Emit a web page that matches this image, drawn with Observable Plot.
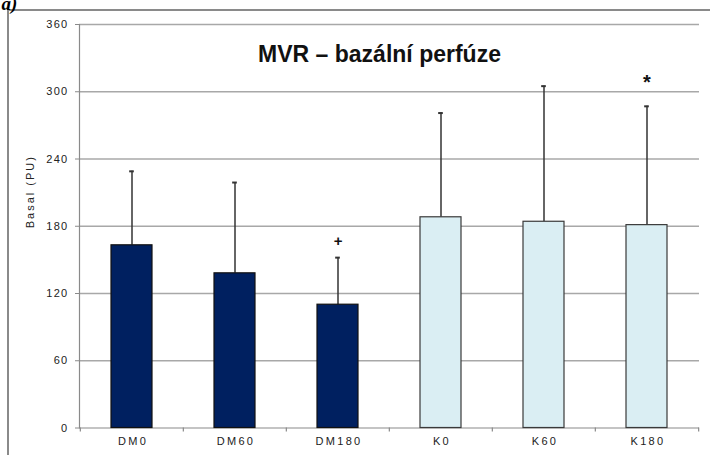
<!DOCTYPE html>
<html>
<head>
<meta charset="utf-8">
<script src="https://cdn.jsdelivr.net/npm/d3@7"></script>
<script src="https://cdn.jsdelivr.net/npm/@observablehq/plot@0.6"></script>
<style>
  html, body { margin: 0; padding: 0; background: #fff; overflow: hidden; }
  #wrap { position: relative; width: 710px; height: 455px; overflow: hidden; }
  /* outer chart-area border: only its top and left edges fall inside the page */
  #box { position: absolute; left: 7px; top: 9px; width: 703px; height: 446px;
         border-left: 2px solid #8a8a8a; border-top: 2px solid #8a8a8a; box-sizing: border-box; }
  #chart { position: absolute; left: 0; top: 0; }
  g[aria-label="x-axis tick label"] text { letter-spacing: 2.3px; }
  g[aria-label="y-axis tick label"] text { letter-spacing: 1.3px; }
</style>
</head>
<body>
<div id="wrap">
  <div id="box"></div>
  <div id="chart"></div>
</div>
<script>
// Basal microvascular reactivity (MVR), diabetics (DM) vs. controls (K)
const groups   = ["DM0", "DM60", "DM180", "K0", "K60", "K180"];
const means    = [163, 138, 110, 188, 184, 181];
const sds      = [66, 81, 42, 93, 121, 106];
const markers  = ["", "", "+", "", "", "*"];
const cohort   = ["DM", "DM", "DM", "K", "K", "K"];
const yTicks   = [0, 60, 120, 180, 240, 300, 360];
const titleText = "MVR – bazální perfúze";
const yLabel   = "Basal (PU)";
const panelTag = "a)";

const rows = groups.map((g, i) => ({
  group: g, mean: means[i], sd: sds[i], upper: means[i] + sds[i],
  marker: markers[i], cohort: cohort[i]
}));

const W = 710, H = 455;
const mL = 79, mR = 11, mT = 24, mB = 27.5;
const step = (W - mL - mR) / groups.length;
const font = "Arial, 'Liberation Sans', sans-serif";
const axisGray = "#8a8a8a";

const chart = Plot.plot({
  width: W, height: H,
  marginLeft: mL, marginRight: mR, marginTop: mT, marginBottom: mB,
  style: { fontFamily: font, background: "transparent", overflow: "visible" },
  x: { domain: groups, paddingInner: 0.6, paddingOuter: 0.3, axis: null },
  y: { domain: [0, 360], axis: null },
  color: { domain: ["DM", "K"], range: ["#002060", "#daeef3"] },
  marks: [
    Plot.gridY(yTicks.filter(d => d > 0), { stroke: "#a8a8a8", strokeOpacity: 1, strokeWidth: 1.5 }),
    Plot.frame({ anchor: "left", stroke: axisGray, strokeWidth: 1.2 }),
    Plot.axisY({ ticks: yTicks, tickSize: 4, tickPadding: 7, fontSize: 11,
                 stroke: axisGray, fill: "#222", label: null }),
    // category separators below the baseline
    Plot.ruleX(groups, { x: d => d, y1: 0, y2: -3.5, dx: -step / 2, stroke: axisGray, strokeWidth: 1.2 }),
    Plot.ruleX(groups.slice(-1), { x: d => d, y1: 0, y2: -3.5, dx: step / 2, stroke: axisGray, strokeWidth: 1.2 }),
    Plot.ruleY([0], { stroke: axisGray, strokeWidth: 1.2 }),
    Plot.axisX({ tickSize: 0, tickPadding: 9, fontSize: 11, fill: "#222", label: null, dx: 1 }),
    // upper error bars
    Plot.ruleX(rows, { x: "group", y1: "mean", y2: "upper", stroke: "#333", strokeWidth: 1.5 }),
    Plot.tickY(rows, { x: "group", y: "upper", stroke: "#333", strokeWidth: 2,
                       insetLeft: step * 0.4 / 2 - 2.5, insetRight: step * 0.4 / 2 - 2.5 }),
    Plot.barY(rows, { x: "group", y: "mean", fill: "cohort",
                      stroke: d => d.cohort === "DM" ? "#111" : "#3a3a3a", strokeWidth: 1.2 }),
    // significance markers
    Plot.text(rows.filter(d => d.marker === "+"), { x: "group", y: "upper", text: "marker",
              dy: -16, fontSize: 15, fontWeight: "bold", fill: "#111" }),
    Plot.text(rows.filter(d => d.marker === "*"), { x: "group", y: "upper", text: "marker",
              dy: -24, fontSize: 20, fontWeight: "bold", fill: "#111" }),
    // title, axis label, panel tag
    Plot.text([titleText], { frameAnchor: "top", dx: -10, dy: 21, fontSize: 23,
              fontWeight: "bold", fill: "#111" }),
    Plot.text([yLabel], { frameAnchor: "left", dx: -49, dy: 2, rotate: -90, fontSize: 11, fill: "#222" }),
    Plot.text([panelTag], { frameAnchor: "top-left", dx: -78, dy: -15, textAnchor: "start",
              lineAnchor: "bottom", fontSize: 19, fontWeight: "bold", fontStyle: "italic",
              fontFamily: "'Liberation Serif', 'DejaVu Serif', serif", fill: "#000" })
  ]
});

// widen the rotated axis title a little, as in the original chart style
d3.select(chart).selectAll("text")
  .filter(function () { return this.textContent === yLabel; })
  .style("letter-spacing", "2px");

document.getElementById("chart").appendChild(chart);
</script>
</body>
</html>
